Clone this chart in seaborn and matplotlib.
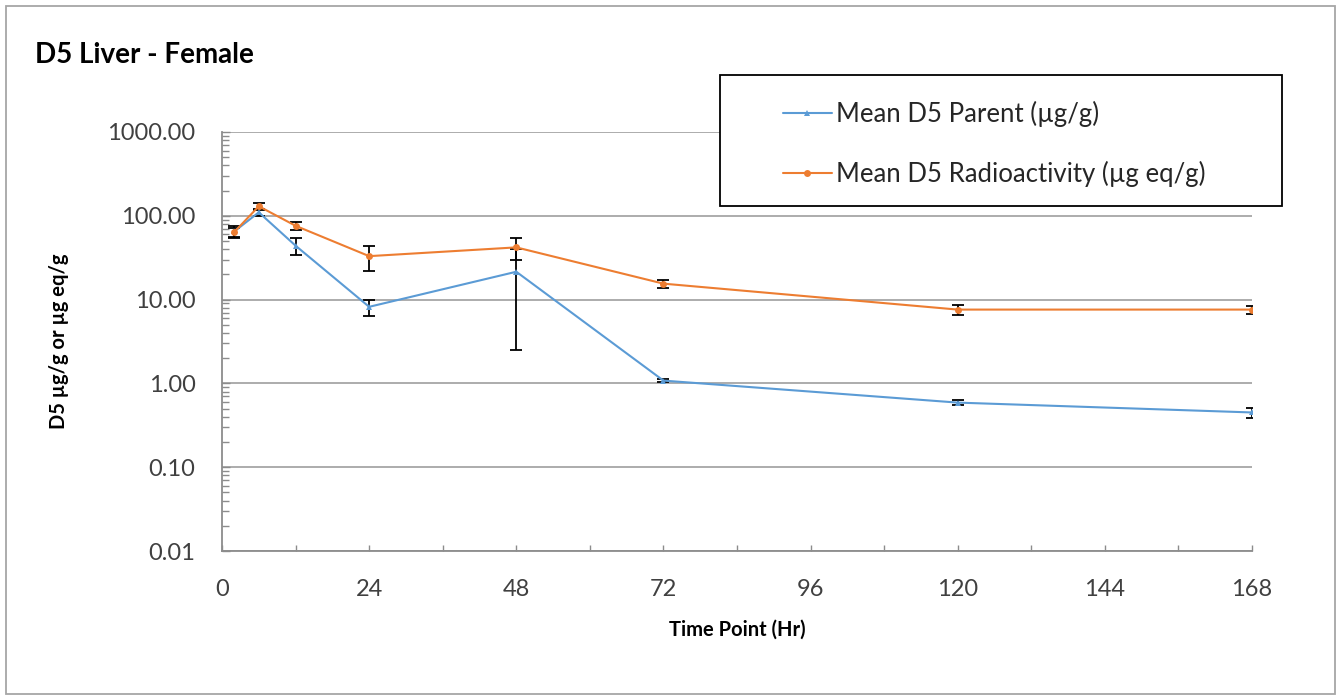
import pandas as pd
import numpy as np
import matplotlib
matplotlib.use("Agg")
import matplotlib.pyplot as plt
import seaborn as sns
from matplotlib.ticker import FixedLocator, LogLocator, NullFormatter, FuncFormatter, MultipleLocator

sns.set_style("white")
plt.rcParams["font.family"] = ["Lato", "DejaVu Sans"]

# data
hours = [2, 6, 12, 24, 48, 72, 120, 168]
parent_mean = [65, 110, 44, 8.2, 21.5, 1.08, 0.59, 0.45]
parent_err = [10, 10, 10, 1.8, 19, 0.05, 0.04, 0.06]
radio_mean = [64, 130, 76, 33, 42, 15.5, 7.6, 7.6]
radio_err = [8, 12, 9, 11, 12, 1.6, 1.0, 0.9]

lab_parent = "Mean D5 Parent (µg/g)"
lab_radio = "Mean D5 Radioactivity (µg eq/g)"
BLUE = "#5B9BD5"
ORANGE = "#ED7D31"
W, H = 1341, 700

df = pd.concat([
    pd.DataFrame({"hour": hours, "value": parent_mean, "err": parent_err, "series": lab_parent}),
    pd.DataFrame({"hour": hours, "value": radio_mean, "err": radio_err, "series": lab_radio}),
])

fig = plt.figure(figsize=(W / 100, H / 100), dpi=100)
ax = fig.add_axes([222 / W, 1 - 551 / H, 1030 / W, 419 / H])

# error bars first (black, capped)
for name, grp in df.groupby("series"):
    ax.errorbar(grp["hour"], grp["value"], yerr=grp["err"], fmt="none",
                ecolor="black", elinewidth=1.3, capsize=4.5, capthick=1.3, zorder=2)

sns.lineplot(data=df, x="hour", y="value", hue="series", style="series",
             palette={lab_parent: BLUE, lab_radio: ORANGE},
             markers={lab_parent: "^", lab_radio: "o"}, dashes=False,
             markersize=5, linewidth=1.5, markeredgewidth=0, ax=ax, zorder=3,
             hue_order=[lab_parent, lab_radio], style_order=[lab_parent, lab_radio])

ax.set_yscale("log")
ax.set_ylim(0.01, 1000)
ax.set_xlim(0, 168)
ax.xaxis.set_major_locator(FixedLocator(range(0, 169, 24)))
ax.xaxis.set_minor_locator(MultipleLocator(12))
ax.yaxis.set_major_locator(FixedLocator([0.01, 0.1, 1, 10, 100, 1000]))
ax.yaxis.set_major_formatter(FuncFormatter(lambda v, p: f"{v:.2f}"))
ax.yaxis.set_minor_locator(LogLocator(base=10, subs=np.arange(2, 10), numticks=20))
ax.yaxis.set_minor_formatter(NullFormatter())

ax.grid(axis="y", which="major", color="#a6a6a6", linewidth=1.3)
ax.grid(axis="x", visible=False)
for s in ["top", "right"]:
    ax.spines[s].set_visible(False)
for s in ["left", "bottom"]:
    ax.spines[s].set_color("#8c8c8c")
    ax.spines[s].set_linewidth(1.3)

ax.tick_params(axis="y", which="major", left=True, direction="in", length=6, width=1,
               labelsize=17, colors="#8c8c8c", labelcolor="#404040", pad=19)
ax.tick_params(axis="y", which="minor", left=True, direction="in", length=5, width=1,
               colors="#8c8c8c")
ax.tick_params(axis="x", which="both", bottom=True, direction="in", length=4, width=1,
               labelsize=17, colors="#8c8c8c", labelcolor="#404040", pad=20)

ax.set_xlabel("Time Point (Hr)", fontsize=14.5, fontweight="bold", color="black", labelpad=14)
ax.set_ylabel("D5 µg/g or µg eq/g", fontsize=14.5, fontweight="bold", color="black", labelpad=28)

handles, labels = ax.get_legend_handles_labels()
ax.get_legend().remove()

# legend box (white fill hides the 1000 gridline)
fig.patches.append(plt.Rectangle((720 / W, 1 - 206 / H), 562 / W, 131 / H,
                                 transform=fig.transFigure, facecolor="white",
                                 edgecolor="black", linewidth=1.3, zorder=4))
leg = fig.legend(handles, labels, loc="center left", bbox_to_anchor=(783 / W, 1 - 144 / H),
                 fontsize=18.5, frameon=False, borderpad=0, borderaxespad=0,
                 labelspacing=1.35, handlelength=1.9, handletextpad=0.15)
leg.set_zorder(5)

fig.text(35 / W, 1 - 55 / H, "D5 Liver - Female", fontsize=20, fontweight="bold",
         color="black", va="center")

# outer chart border
fig.patches.append(plt.Rectangle((6 / W, 6 / H), (W - 12) / W, (H - 12) / H,
                                 transform=fig.transFigure, fill=False,
                                 edgecolor="#a6a6a6", linewidth=1.3, zorder=0))

fig.savefig("out.png", dpi=100)
plt.close()
